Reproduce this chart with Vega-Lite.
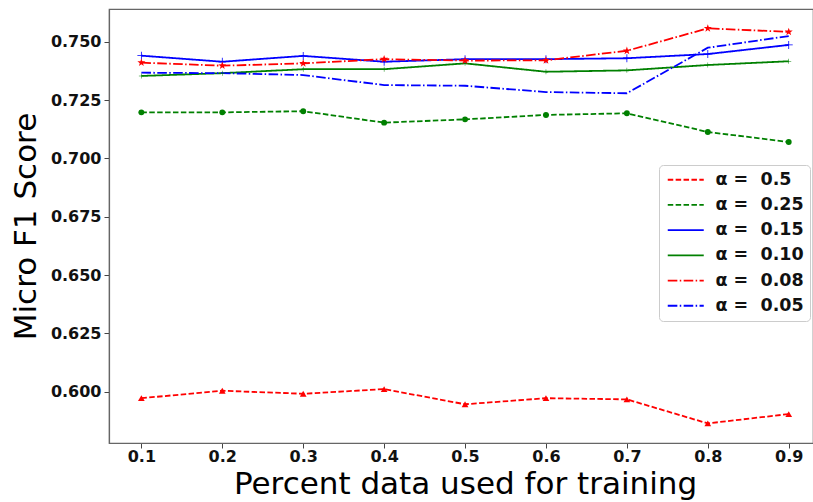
{
  "$schema": "https://vega.github.io/schema/vega-lite/v6.json",
  "autosize": {"type": "none"},
  "width": 704,
  "height": 434,
  "padding": {"left": 109, "top": 9, "right": 0, "bottom": 59},
  "background": "white",
  "config": {
    "view": {"stroke": "#666666", "strokeWidth": 1.2},
    "font": "DejaVu Sans",
    "axis": {
      "grid": false,
      "domainColor": "#666666",
      "domainWidth": 1.2,
      "tickColor": "#444444",
      "tickSize": 5,
      "labelFont": "DejaVu Sans",
      "labelFontSize": 16,
      "labelFontWeight": "bold",
      "labelColor": "#111111",
      "titleFont": "DejaVu Sans",
      "titleFontSize": 31,
      "titleFontWeight": "normal",
      "titleColor": "#000000"
    },
    "legend": {
      "orient": "none",
      "legendX": 550,
      "legendY": 156,
      "fillColor": "white",
      "strokeColor": "#cccccc",
      "cornerRadius": 4,
      "padding": 6,
      "labelFont": "DejaVu Sans",
      "labelFontSize": 17.5,
      "labelFontWeight": "bold",
      "labelColor": "#111111",
      "symbolType": "M-1,0H5",
      "symbolSize": 144,
      "symbolStrokeWidth": 1.8,
      "rowPadding": 6.2,
      "labelOffset": 33
    }
  },
  "data": {
    "values": [
      {"x": 0.1, "a": "0.5", "v": 0.5972},
      {"x": 0.2, "a": "0.5", "v": 0.6004},
      {"x": 0.3, "a": "0.5", "v": 0.5991},
      {"x": 0.4, "a": "0.5", "v": 0.6011},
      {"x": 0.5, "a": "0.5", "v": 0.5946},
      {"x": 0.6, "a": "0.5", "v": 0.5972},
      {"x": 0.7, "a": "0.5", "v": 0.5967},
      {"x": 0.8, "a": "0.5", "v": 0.5864},
      {"x": 0.9, "a": "0.5", "v": 0.5904},
      {"x": 0.1, "a": "0.25", "v": 0.7197},
      {"x": 0.2, "a": "0.25", "v": 0.7197},
      {"x": 0.3, "a": "0.25", "v": 0.7202},
      {"x": 0.4, "a": "0.25", "v": 0.7153},
      {"x": 0.5, "a": "0.25", "v": 0.7167},
      {"x": 0.6, "a": "0.25", "v": 0.7186},
      {"x": 0.7, "a": "0.25", "v": 0.7193},
      {"x": 0.8, "a": "0.25", "v": 0.7113},
      {"x": 0.9, "a": "0.25", "v": 0.7070},
      {"x": 0.1, "a": "0.15", "v": 0.7440},
      {"x": 0.2, "a": "0.15", "v": 0.7414},
      {"x": 0.3, "a": "0.15", "v": 0.7439},
      {"x": 0.4, "a": "0.15", "v": 0.7414},
      {"x": 0.5, "a": "0.15", "v": 0.7425},
      {"x": 0.6, "a": "0.15", "v": 0.7425},
      {"x": 0.7, "a": "0.15", "v": 0.7429},
      {"x": 0.8, "a": "0.15", "v": 0.7447},
      {"x": 0.9, "a": "0.15", "v": 0.7486},
      {"x": 0.1, "a": "0.10", "v": 0.7353},
      {"x": 0.2, "a": "0.10", "v": 0.7365},
      {"x": 0.3, "a": "0.10", "v": 0.7382},
      {"x": 0.4, "a": "0.10", "v": 0.7382},
      {"x": 0.5, "a": "0.10", "v": 0.7407},
      {"x": 0.6, "a": "0.10", "v": 0.7371},
      {"x": 0.7, "a": "0.10", "v": 0.7377},
      {"x": 0.8, "a": "0.10", "v": 0.7400},
      {"x": 0.9, "a": "0.10", "v": 0.7416},
      {"x": 0.1, "a": "0.08", "v": 0.7410},
      {"x": 0.2, "a": "0.08", "v": 0.7397},
      {"x": 0.3, "a": "0.08", "v": 0.7407},
      {"x": 0.4, "a": "0.08", "v": 0.7425},
      {"x": 0.5, "a": "0.08", "v": 0.7419},
      {"x": 0.6, "a": "0.08", "v": 0.7420},
      {"x": 0.7, "a": "0.08", "v": 0.7461},
      {"x": 0.8, "a": "0.08", "v": 0.7557},
      {"x": 0.9, "a": "0.08", "v": 0.7542},
      {"x": 0.1, "a": "0.05", "v": 0.7367},
      {"x": 0.2, "a": "0.05", "v": 0.7365},
      {"x": 0.3, "a": "0.05", "v": 0.7357},
      {"x": 0.4, "a": "0.05", "v": 0.7314},
      {"x": 0.5, "a": "0.05", "v": 0.7311},
      {"x": 0.6, "a": "0.05", "v": 0.7284},
      {"x": 0.7, "a": "0.05", "v": 0.7279},
      {"x": 0.8, "a": "0.05", "v": 0.7474},
      {"x": 0.9, "a": "0.05", "v": 0.7524}
    ]
  },
  "encoding": {
    "x": {
      "field": "x",
      "type": "quantitative",
      "scale": {"domain": [0.06, 0.93], "nice": false, "zero": false},
      "axis": {
        "values": [0.1, 0.2, 0.3, 0.4, 0.5, 0.6, 0.7, 0.8, 0.9],
        "format": ".1f",
        "labelPadding": 0,
        "title": "Percent data used for training",
        "titlePadding": 5,
        "titleX": 356
      }
    },
    "y": {
      "field": "v",
      "type": "quantitative",
      "scale": {"domain": [0.578, 0.764], "nice": false, "zero": false},
      "axis": {
        "values": [0.6, 0.625, 0.65, 0.675, 0.7, 0.725, 0.75],
        "format": ".3f",
        "labelPadding": 3,
        "title": "Micro F1 Score",
        "titlePadding": 8
      }
    }
  },
  "layer": [
    {
      "mark": {"type": "line", "strokeWidth": 1.8},
      "encoding": {
        "color": {
          "field": "a",
          "type": "nominal",
          "scale": {
            "domain": ["0.5", "0.25", "0.15", "0.10", "0.08", "0.05"],
            "range": ["#ff0000", "#008000", "#0000ff", "#008000", "#ff0000", "#0000ff"]
          },
          "legend": {"title": null, "symbolType": "M-1,0H5", "labelExpr": "'α = \u00a0' + datum.label"}
        },
        "strokeDash": {
          "field": "a",
          "type": "nominal",
          "scale": {
            "domain": ["0.5", "0.25", "0.15", "0.10", "0.08", "0.05"],
            "range": [[5.5, 2.4], [5.5, 2.4], [1, 0], [1, 0], [9.6, 2.4, 1.5, 2.4], [9.6, 2.4, 1.5, 2.4]]
          },
          "legend": {"title": null, "symbolType": "M-1,0H5", "labelExpr": "'α = \u00a0' + datum.label"}
        }
      }
    },
    {
      "transform": [{"filter": "datum.a == '0.5'"}],
      "mark": {"type": "point", "filled": true, "opacity": 1, "shape": "triangle-up", "size": 45, "color": "#ff0000"}
    },
    {
      "transform": [{"filter": "datum.a == '0.25'"}],
      "mark": {"type": "point", "filled": true, "opacity": 1, "shape": "circle", "size": 35, "color": "#008000"}
    },
    {
      "transform": [{"filter": "datum.a == '0.15'"}],
      "mark": {"type": "point", "filled": true, "opacity": 1, "shape": "M-1,-0.1H1V0.1H-1ZM-0.1,-1H0.1V1H-0.1Z", "size": 64, "color": "#0000ff"}
    },
    {
      "transform": [{"filter": "datum.a == '0.10'"}],
      "mark": {"type": "point", "filled": true, "opacity": 1, "shape": "M-1,-0.1H1V0.1H-1ZM-0.1,-1H0.1V1H-0.1Z", "size": 25, "color": "#008000"}
    },
    {
      "transform": [{"filter": "datum.a == '0.08'"}],
      "mark": {"type": "point", "filled": true, "opacity": 1, "shape": "M0,-1L0.235,-0.324L0.951,-0.309L0.38,0.124L0.588,0.809L0,0.4L-0.588,0.809L-0.38,0.124L-0.951,-0.309L-0.235,-0.324Z", "size": 70, "color": "#ff0000"}
    }
  ]
}
